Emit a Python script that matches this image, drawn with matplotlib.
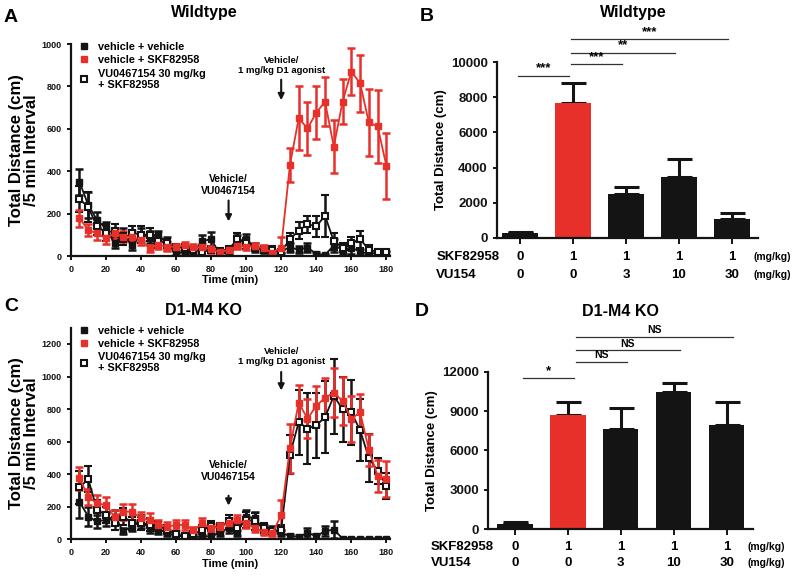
import numpy as np
import matplotlib.pyplot as plt
from matplotlib.lines import Line2D

plt.rcParams['font.family'] = ['Liberation Sans', 'DejaVu Sans']
plt.rcParams['font.weight'] = 'bold'
plt.rcParams['axes.labelweight'] = 'bold'

RED = '#e8302a'
BLACK = '#141414'

time_min = np.arange(5, 181, 5)

# panel A - wildtype, time course
wt_veh_veh = [350, 240, 170, 130, 60, 100, 50, 100, 90, 100, 60, 15, 15, 20, 70, 80, 10, 20,
              70, 80, 40, 30, 20, 25, 40, 30, 40, 10, 5, 50, 30, 40, 20, 10, 15, 15]
wt_veh_veh_err = [60, 60, 40, 30, 20, 30, 20, 30, 30, 20, 30, 10, 10, 10, 30, 35, 10, 10,
                  30, 25, 20, 15, 10, 10, 20, 15, 20, 10, 5, 30, 20, 30, 15, 10, 10, 10]
wt_veh_skf = [178, 123, 107, 83, 107, 91, 91, 75, 36, 52, 44, 44, 52, 41, 44, 31, 20, 28,
              47, 44, 47, 36, 16, 40, 430, 650, 602, 676, 728, 516, 728, 870, 815, 630, 611, 425]
wt_veh_skf_err = [40, 30, 30, 25, 25, 25, 25, 25, 15, 20, 20, 15, 15, 15, 15, 15, 10, 10,
                  15, 15, 15, 15, 10, 50, 80, 150, 125, 125, 115, 125, 105, 110, 135, 160, 170, 155]
wt_vu_skf = [270, 230, 140, 110, 120, 80, 110, 100, 100, 70, 60, 40, 40, 30, 20, 30, 25, 30,
             80, 60, 40, 30, 30, 20, 80, 120, 150, 140, 190, 70, 40, 60, 80, 30, 20, 20]
wt_vu_skf_err = [60, 70, 40, 40, 30, 30, 30, 40, 30, 30, 20, 15, 15, 15, 10, 15, 10, 15,
                 30, 25, 15, 15, 15, 10, 30, 40, 40, 50, 100, 40, 20, 30, 40, 20, 10, 10]

# panel C - D1-M4 KO, time course
ko_veh_veh = [230, 140, 110, 120, 140, 50, 80, 110, 70, 60, 40, 20, 20, 15, 15, 20, 40, 70,
              40, 140, 130, 60, 60, 40, 20, 15, 40, 20, 50, 60, 5, 5, 5, 5, 5, 5]
ko_veh_veh_err = [100, 60, 40, 40, 40, 20, 30, 40, 30, 30, 20, 15, 15, 10, 10, 15, 20, 30,
                  20, 40, 40, 30, 20, 20, 15, 10, 30, 15, 30, 50, 5, 5, 5, 5, 5, 5]
ko_veh_skf = [375, 262, 221, 211, 139, 170, 170, 129, 119, 88, 78, 88, 88, 57, 98, 68, 78, 98,
              119, 98, 68, 47, 37, 149, 560, 840, 740, 820, 870, 900, 850, 740, 780, 550, 390, 370]
ko_veh_skf_err = [70, 50, 50, 50, 40, 50, 50, 40, 40, 30, 30, 30, 30, 20, 30, 25, 25, 30,
                  30, 30, 25, 20, 15, 90, 150, 110, 120, 120, 120, 150, 150, 140, 110, 100, 100, 110]
ko_vu_skf = [320, 370, 180, 150, 100, 140, 100, 100, 90, 80, 60, 30, 20, 30, 60, 80, 70, 110,
             70, 120, 110, 70, 50, 60, 520, 720, 680, 700, 750, 880, 800, 780, 670, 500, 420, 330]
ko_vu_skf_err = [100, 80, 60, 50, 40, 50, 40, 40, 40, 30, 30, 20, 15, 20, 30, 30, 30, 40,
                 30, 50, 50, 30, 20, 30, 120, 200, 220, 200, 220, 230, 200, 200, 190, 150, 80, 80]

# bar panels
skf_dose = ['0', '1', '1', '1', '1']
vu_dose = ['0', '0', '3', '10', '30']
bar_colors = [BLACK, RED, BLACK, BLACK, BLACK]
wt_bar_mean = [280, 7700, 2500, 3450, 1050]
wt_bar_err = [70, 1100, 400, 1050, 350]
ko_bar_mean = [420, 8700, 7650, 10450, 7950]
ko_bar_err = [160, 1000, 1550, 700, 1750]
wt_sig = [(0, 1, 9220, '***'), (1, 2, 9885, '***'), (1, 3, 10550, '**'), (1, 4, 11310, '***')]
ko_sig = [(0, 1, 11500, '*'), (1, 2, 12760, 'NS'), (1, 3, 13650, 'NS'), (1, 4, 14670, 'NS')]

legend_labels = ['vehicle + vehicle', 'vehicle + SKF82958', 'VU0467154 30 mg/kg\n+ SKF82958']


def style_axes(ax, tick_size):
    for s in ['top', 'right']:
        ax.spines[s].set_visible(False)
    for s in ['left', 'bottom']:
        ax.spines[s].set_linewidth(1.6)
        ax.spines[s].set_color(BLACK)
    ax.tick_params(direction='out', width=1.4, length=3, labelsize=tick_size, colors=BLACK)
    for lab in ax.get_xticklabels() + ax.get_yticklabels():
        lab.set_fontweight('bold')


def time_panel(ax, vv, vv_err, vs, vs_err, us, us_err, ymax, yticks, vu_arrow, d1_arrow):
    kw = dict(capsize=3, elinewidth=1.8, capthick=1.8, lw=1.3, ms=4.6)
    ax.errorbar(time_min, vv, yerr=vv_err, color=BLACK, marker='s', **kw)
    ax.errorbar(time_min, us, yerr=us_err, color=BLACK, marker='s', mfc='white',
                mec=BLACK, mew=1.5, **kw)
    ax.errorbar(time_min, vs, yerr=vs_err, color=RED, marker='s', **kw)
    ax.set_xlim(0, 182)
    ax.set_ylim(0, ymax)
    ax.set_xticks(np.arange(0, 181, 20))
    ax.set_yticks(yticks)
    ax.set_xlabel('Time (min)', fontsize=8, labelpad=1)
    ax.set_ylabel('Total Distance (cm)\n/5 min Interval', fontsize=12, labelpad=2,
                  linespacing=0.95)
    style_axes(ax, 6.5)

    ax.annotate('', xy=(90, vu_arrow[1]), xytext=(90, vu_arrow[0]),
                arrowprops=dict(arrowstyle='-|>', color=BLACK, lw=1.5, mutation_scale=9))
    ax.text(90, vu_arrow[2], 'Vehicle/\nVU0467154', ha='center', va='bottom',
            fontsize=7.5, linespacing=1.15)
    ax.annotate('', xy=(120, d1_arrow[1]), xytext=(120, d1_arrow[0]),
                arrowprops=dict(arrowstyle='-|>', color=BLACK, lw=1.5, mutation_scale=9))
    ax.text(120, d1_arrow[2], 'Vehicle/\n1 mg/kg D1 agonist', ha='center', va='bottom',
            fontsize=6.8, linespacing=1.15)

    handles = [Line2D([], [], ls='none', marker='s', ms=5, color=BLACK),
               Line2D([], [], ls='none', marker='s', ms=5, color=RED),
               Line2D([], [], ls='none', marker='s', ms=5, mfc='white', mec=BLACK, mew=1.5)]
    leg = ax.legend(handles, legend_labels, loc='upper left', bbox_to_anchor=(0.015, 1.03),
                    frameon=False, fontsize=7.8, handlelength=0.8, handletextpad=0.9,
                    labelspacing=0.3, borderaxespad=0)
    for t in leg.get_texts():
        t.set_fontweight('bold')
        t.set_linespacing(1.15)


def bar_panel(ax, means, errs, ymax, yticks, sig, sig_off):
    x = np.arange(len(means))
    ax.bar(x, means, width=0.67, color=bar_colors, zorder=2)
    ax.errorbar(x, means, yerr=[np.zeros(len(errs)), errs], fmt='none', ecolor=BLACK,
                elinewidth=2.2, capsize=9, capthick=2.2, zorder=1)
    ax.set_ylim(0, ymax)
    ax.set_yticks(yticks)
    ax.set_xticks(x)
    ax.set_xticklabels([])
    ax.set_ylabel('Total Distance (cm)', fontsize=9.5, labelpad=3)
    style_axes(ax, 9.5)
    ax.tick_params(axis='x', length=4)

    for i, j, h, label in sig:
        x0 = i + sig_off[0]
        x1 = j + sig_off[1]
        ax.plot([x0, x1], [h, h], color='#333333', lw=0.9, clip_on=False)
        ax.text((x0 + x1) / 2, h + ymax * 0.008, label, ha='center', va='bottom',
                fontsize=9.5 if '*' in label else 7.5, clip_on=False)

    trans = ax.get_xaxis_transform()
    for k in range(len(x)):
        ax.text(x[k], -0.11, skf_dose[k], transform=trans, ha='center', va='center', fontsize=9.5)
        ax.text(x[k], -0.215, vu_dose[k], transform=trans, ha='center', va='center', fontsize=9.5)
    ax.text(-1.58, -0.11, 'SKF82958', transform=trans, ha='left', va='center', fontsize=9.5)
    ax.text(-1.58, -0.215, 'VU154', transform=trans, ha='left', va='center', fontsize=9.5)
    ax.text(4.4, -0.11, '(mg/kg)', transform=trans, ha='left', va='center', fontsize=7.5)
    ax.text(4.4, -0.215, '(mg/kg)', transform=trans, ha='left', va='center', fontsize=7.5)


fig = plt.figure(figsize=(8, 5.84), dpi=100)

axA = fig.add_axes([0.0884, 0.5616, 0.399, 0.363])
time_panel(axA, wt_veh_veh, wt_veh_veh_err, wt_veh_skf, wt_veh_skf_err, wt_vu_skf, wt_vu_skf_err,
           1000, np.arange(0, 1001, 200), (275, 150, 285), (845, 722, 855))

axC = fig.add_axes([0.0884, 0.0765, 0.399, 0.3624])
time_panel(axC, ko_veh_veh, ko_veh_veh_err, ko_veh_skf, ko_veh_skf_err, ko_vu_skf, ko_vu_skf_err,
           1300, np.arange(0, 1201, 200), (285, 190, 355), (1045, 897, 1065))

axB = fig.add_axes([0.6209, 0.593, 0.327, 0.3003])
axB.set_xlim(-0.44, 4.5)
bar_panel(axB, wt_bar_mean, wt_bar_err, 10000, np.arange(0, 10001, 2000), wt_sig, (-0.04, -0.07))

axD = fig.add_axes([0.6104, 0.0937, 0.331, 0.2699])
axD.set_xlim(-0.5, 4.5)
bar_panel(axD, ko_bar_mean, ko_bar_err, 12000, np.arange(0, 12001, 3000), ko_sig, (0.15, 0.12))

fig.text(0.005, 0.97, 'A', fontsize=14, ha='left', va='center')
fig.text(0.005, 0.475, 'C', fontsize=14, ha='left', va='center')
fig.text(0.525, 0.972, 'B', fontsize=14, ha='left', va='center')
fig.text(0.518, 0.466, 'D', fontsize=14, ha='left', va='center')
fig.text(0.255, 0.978, 'Wildtype', fontsize=11.5, ha='center', va='center')
fig.text(0.254, 0.469, 'D1-M4 KO', fontsize=11.5, ha='center', va='center')
fig.text(0.791, 0.978, 'Wildtype', fontsize=11.5, ha='center', va='center')
fig.text(0.775, 0.466, 'D1-M4 KO', fontsize=11.5, ha='center', va='center')

fig.savefig('out.png', dpi=100, facecolor='white')
